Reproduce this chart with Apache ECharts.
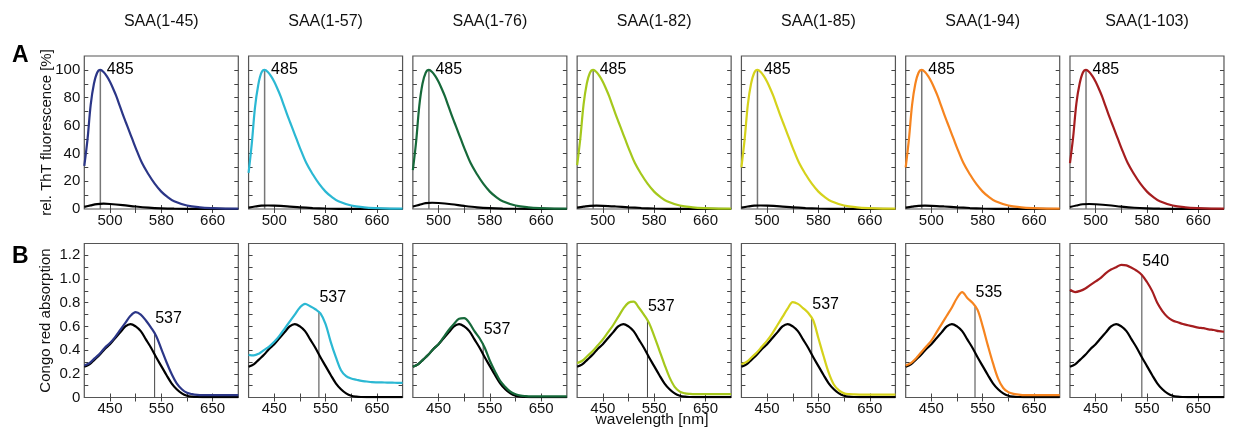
<!DOCTYPE html>
<html><head><meta charset="utf-8">
<script src="https://cdn.jsdelivr.net/npm/echarts@6/dist/echarts.min.js"></script>
<style>html,body{margin:0;padding:0;background:#fff}#c{width:1233px;height:429px}</style>
</head><body><div id="c"></div>
<script>
// ---------- data ----------
const samples = ['SAA(1-45)','SAA(1-57)','SAA(1-76)','SAA(1-82)','SAA(1-85)','SAA(1-94)','SAA(1-103)'];
const sampleColors = ['#2b3687','#2bb8d3','#16693a','#a5c81c','#d5d21b','#f6841f','#a51d1f'];

// Row A: ThT fluorescence
const wlThT = [460,465,470,475,480,485,490,495,500,505,510,515,520,525,530,535,540,550,560,570,580,590,600,620,640,660,680,700];
const tht45  = [31,50,75,90,98,100,98.5,95.5,91.5,86.5,81,74.5,68,62,56,50,44,33,25,18,12.5,8.5,5.5,2.5,1.2,0.6,0.3,0.2];
const tht57  = [26,47,73,89,98,100,98.5,95.5,91.5,86.5,81,74.5,68,62,56,50,44,33,25,18,12.5,8.5,5.5,2.5,1.2,0.6,0.3,0.2];
const tht76  = [28,48,74,90,98,100,98.5,95.5,91.5,86.5,81,74.5,68,62,56,50,44,33,25,18,12.5,8.5,5.5,2.5,1.2,0.6,0.3,0.2];
const tht82  = [31.5,51,75,90,98,100,98.5,95.5,91.5,86.5,81,74.5,68,62,56,50,44,33,25,18,12.5,8.5,5.5,2.5,1.2,0.6,0.3,0.2];
const tht85  = [30,50,75,90,98,100,98.5,95.5,91.5,86.5,81,74.5,68,62,56,50,44,33,25,18,12.5,8.5,5.5,2.5,1.2,0.6,0.3,0.2];
const tht94  = [30,50,75,90,98,100,98.5,95.5,91.5,86.5,81,74.5,68,62,56,50,44,33,25,18,12.5,8.5,5.5,2.5,1.2,0.6,0.3,0.2];
const tht103 = [33,52,76,90,98,100,98.5,95.5,91.5,86.5,81,74.5,68,62,56,50,44,33,25,18,12.5,8.5,5.5,2.5,1.2,0.6,0.3,0.2];
const thtSamples = [tht45,tht57,tht76,tht82,tht85,tht94,tht103];

const wlThTCtrl = [460,470,480,490,500,520,540,560,580,600,640,700];
const thtCtrl1 = [1.5,2.6,3.5,3.8,3.6,2.8,1.8,1.0,0.5,0.25,0.1,0];
const thtCtrl2 = [1.0,1.8,2.4,2.5,2.4,1.9,1.2,0.7,0.35,0.15,0.05,0];
const thtCtrl3 = [1.8,3.0,4.2,4.5,4.3,3.4,2.2,1.2,0.6,0.3,0.1,0];
const thtCtrl4 = [1.0,1.7,2.3,2.4,2.3,1.8,1.2,0.7,0.35,0.15,0.05,0];
const thtCtrl5 = [1.0,1.8,2.4,2.5,2.4,1.9,1.2,0.7,0.35,0.15,0.05,0];
const thtCtrl6 = [1.0,1.7,2.3,2.4,2.3,1.8,1.2,0.7,0.35,0.15,0.05,0];
const thtCtrl7 = [1.4,2.5,3.4,3.6,3.4,2.7,1.7,0.9,0.45,0.2,0.1,0];
const thtCtrls = [thtCtrl1,thtCtrl2,thtCtrl3,thtCtrl4,thtCtrl5,thtCtrl6,thtCtrl7];

const thtPeakWl = [485,485,485,485,485,485,485];
const thtPeakVal = [100,100,100,100,100,100,100];
const thtPeakLabels = ['485','485','485','485','485','485','485'];

// Row B: Congo red absorption
const wlCR = [400,410,420,430,440,450,460,470,480,490,500,510,520,530,540,550,560,570,580,590,600,610,620,630,640,650,660,670,680,690,700];
const crBlank = [0.26,0.28,0.32,0.36,0.41,0.45,0.50,0.55,0.60,0.62,0.60,0.56,0.49,0.42,0.34,0.265,0.19,0.12,0.07,0.035,0.015,0.007,0.004,0.003,0.003,0.003,0.003,0.003,0.003,0.003,0.003];
const cr45  = [0.27,0.29,0.33,0.37,0.42,0.46,0.51,0.57,0.63,0.69,0.72,0.70,0.65,0.59,0.52,0.41,0.30,0.20,0.12,0.07,0.04,0.028,0.022,0.02,0.02,0.02,0.02,0.02,0.02,0.02,0.02];
const cr57  = [0.36,0.355,0.37,0.40,0.43,0.47,0.52,0.58,0.64,0.70,0.76,0.79,0.77,0.745,0.71,0.62,0.47,0.34,0.23,0.18,0.16,0.15,0.14,0.135,0.13,0.128,0.127,0.126,0.125,0.124,0.123];
const cr76  = [0.26,0.28,0.32,0.36,0.41,0.45,0.51,0.57,0.62,0.665,0.67,0.63,0.56,0.50,0.42,0.31,0.22,0.14,0.09,0.05,0.028,0.016,0.012,0.01,0.01,0.01,0.01,0.01,0.01,0.01,0.01];
const cr82  = [0.29,0.31,0.35,0.39,0.44,0.49,0.55,0.61,0.68,0.75,0.80,0.81,0.76,0.70,0.63,0.52,0.40,0.28,0.17,0.09,0.05,0.035,0.03,0.028,0.028,0.028,0.028,0.028,0.028,0.028,0.028];
const cr85  = [0.28,0.30,0.34,0.38,0.43,0.48,0.54,0.61,0.68,0.75,0.805,0.79,0.755,0.715,0.65,0.50,0.35,0.21,0.11,0.06,0.035,0.028,0.026,0.025,0.025,0.025,0.025,0.025,0.025,0.025,0.025];
const cr94  = [0.27,0.29,0.33,0.38,0.43,0.48,0.55,0.62,0.69,0.76,0.84,0.89,0.84,0.80,0.74,0.60,0.44,0.29,0.16,0.08,0.045,0.03,0.025,0.02,0.02,0.02,0.02,0.02,0.02,0.02,0.02];
const cr103 = [0.91,0.89,0.90,0.92,0.95,0.98,1.01,1.05,1.08,1.10,1.12,1.115,1.095,1.07,1.035,0.975,0.90,0.80,0.73,0.68,0.65,0.635,0.62,0.61,0.60,0.59,0.585,0.575,0.57,0.56,0.555];
const crSamples = [cr45,cr57,cr76,cr82,cr85,cr94,cr103];

const crPeakWl = [537,537,537,537,537,535,540];
const crPeakVal = [0.55,0.726,0.457,0.655,0.67,0.768,1.036];
const crPeakLabels = ['537','537','537','537','537','535','540'];

// tick positions / labels
const thtXTicks = [500,540,580,620,660];
const thtXLabels = [500,580,660];
const thtYTicks = [10,20,30,40,50,60,70,80,90,100];
const thtYLabels = [0,20,40,60,80,100];
const crXTicks = [450,500,550,600,650];
const crXLabels = [450,550,650];
const crYTicks = [0.1,0.2,0.3,0.4,0.5,0.6,0.7,0.8,0.9,1.0,1.1,1.2];
const crYLabels = [0,0.2,0.4,0.6,0.8,1.0,1.2];

// ---------- layout ----------
const FONT = '"Liberation Sans", Arial, Helvetica, sans-serif';
const panelW = 154, step = 164.28, left0 = 84.3;
const rowTop = [56, 243.5], rowH = [153, 154];
const frameColor = '#555', tickColor = '#444';

const grids = [], xAxes = [], yAxes = [], series = [], graphics = [];
const zip = (xs, ys) => xs.map((x, k) => [x, ys[k]]);

function addAxes(g, row, col) {
  const isTop = row === 0;
  const xmin = isTop ? 460 : 400, xmax = 700;
  const ymax = isTop ? 110 : 1.3;
  const xT = isTop ? thtXTicks : crXTicks, xL = isTop ? thtXLabels : crXLabels;
  const yT = isTop ? thtYTicks : crYTicks, yL = isTop ? thtYLabels : crYLabels;
  const tick = (vals) => ({show: true, inside: true, length: 4, lineStyle: {color: tickColor, width: 1}, customValues: vals});
  const lbl = (vals, show, fmt) => ({show, customValues: vals, fontSize: 15, color: '#111', fontFamily: FONT, margin: 4, formatter: fmt});
  xAxes.push({type: 'value', gridIndex: g, min: xmin, max: xmax, position: 'bottom',
    axisLine: {show: false}, splitLine: {show: false}, axisTick: tick(xT), axisLabel: lbl(xL, true, v => String(v))});
  xAxes.push({type: 'value', gridIndex: g, min: xmin, max: xmax, position: 'top',
    axisLine: {show: false}, splitLine: {show: false}, axisTick: tick(xT), axisLabel: {show: false}});
  const yfmt = isTop ? (v => String(Math.round(v))) : (v => (Math.abs(v) < 1e-9 ? '0' : v.toFixed(1)));
  yAxes.push({type: 'value', gridIndex: g, min: 0, max: ymax, position: 'left',
    axisLine: {show: false}, splitLine: {show: false}, axisTick: tick(yT), axisLabel: lbl(yL, col === 0, yfmt)});
  yAxes.push({type: 'value', gridIndex: g, min: 0, max: ymax, position: 'right',
    axisLine: {show: false}, splitLine: {show: false}, axisTick: tick(yT), axisLabel: {show: false}});
}

for (let row = 0; row < 2; row++) {
  for (let col = 0; col < 7; col++) {
    const g = row * 7 + col;
    grids.push({left: left0 + col * step, top: rowTop[row], width: panelW, height: rowH[row],
      show: true, borderColor: frameColor, borderWidth: 1.2, backgroundColor: 'transparent'});
    addAxes(g, row, col);
    const xi = 2 * g, yi = 2 * g;
    const isTop = row === 0;
    const blackData = isTop ? zip(wlThTCtrl, thtCtrls[col]) : zip(wlCR, crBlank);
    const colData = isTop ? zip(wlThT, thtSamples[col]) : zip(wlCR, crSamples[col]);
    const pw = isTop ? thtPeakWl[col] : crPeakWl[col];
    const pv = isTop ? thtPeakVal[col] : crPeakVal[col];
    const pl = isTop ? thtPeakLabels[col] : crPeakLabels[col];
    series.push({type: 'line', xAxisIndex: xi, yAxisIndex: yi, data: [[pw, 0], [pw, pv]],
      symbol: 'none', silent: true, z: 1,
      lineStyle: {color: isTop ? '#777' : '#444', width: isTop ? 1.5 : 1}});
    series.push({type: 'line', xAxisIndex: xi, yAxisIndex: yi, data: blackData, smooth: 0.35,
      symbol: 'none', z: 2, lineStyle: {color: '#000', width: 2.2}});
    series.push({type: 'line', xAxisIndex: xi, yAxisIndex: yi, data: colData, smooth: 0.35,
      symbol: 'none', z: 3, lineStyle: {color: sampleColors[col], width: 2.2}});
    series.push({type: 'scatter', xAxisIndex: xi, yAxisIndex: yi, data: [[pw, pv]],
      symbolSize: 1, itemStyle: {color: '#000', opacity: 0}, silent: true, z: 5,
      label: {show: true, formatter: pl, position: isTop ? [7, -8] : [1, -21],
        fontSize: 16, color: '#000', opacity: 1, textBorderWidth: 0, fontFamily: FONT}});
  }
}
samples.forEach((s, col) => {
  graphics.push({type: 'text', x: left0 + col * step + panelW / 2, y: 22,
    style: {text: s, fontSize: 16, fontFamily: FONT, fill: '#111', align: 'center', verticalAlign: 'middle'}});
});
graphics.push({type: 'text', x: 12, y: 56, style: {text: 'A', fontSize: 23, fontWeight: 'bold', fontFamily: FONT, fill: '#000', align: 'left', verticalAlign: 'middle'}});
graphics.push({type: 'text', x: 12, y: 257, style: {text: 'B', fontSize: 23, fontWeight: 'bold', fontFamily: FONT, fill: '#000', align: 'left', verticalAlign: 'middle'}});
graphics.push({type: 'text', x: 47, y: rowTop[0] + rowH[0] / 2, rotation: Math.PI / 2,
  style: {text: 'rel. ThT fluorescence [%]', fontSize: 15, fontFamily: FONT, fill: '#111', align: 'center', verticalAlign: 'middle'}});
graphics.push({type: 'text', x: 46, y: rowTop[1] + rowH[1] / 2, rotation: Math.PI / 2,
  style: {text: 'Congo red absorption', fontSize: 15, fontFamily: FONT, fill: '#111', align: 'center', verticalAlign: 'middle'}});
graphics.push({type: 'text', x: 652, y: 420,
  style: {text: 'wavelength [nm]', fontSize: 15.5, fontFamily: FONT, fill: '#111', align: 'center', verticalAlign: 'middle'}});

const chart = echarts.init(document.getElementById('c'), null, {renderer: 'canvas'});
chart.setOption({
  backgroundColor: '#fff',
  animation: false,
  textStyle: {fontFamily: FONT},
  grid: grids, xAxis: xAxes, yAxis: yAxes, series: series, graphic: graphics
});
</script></body></html>
